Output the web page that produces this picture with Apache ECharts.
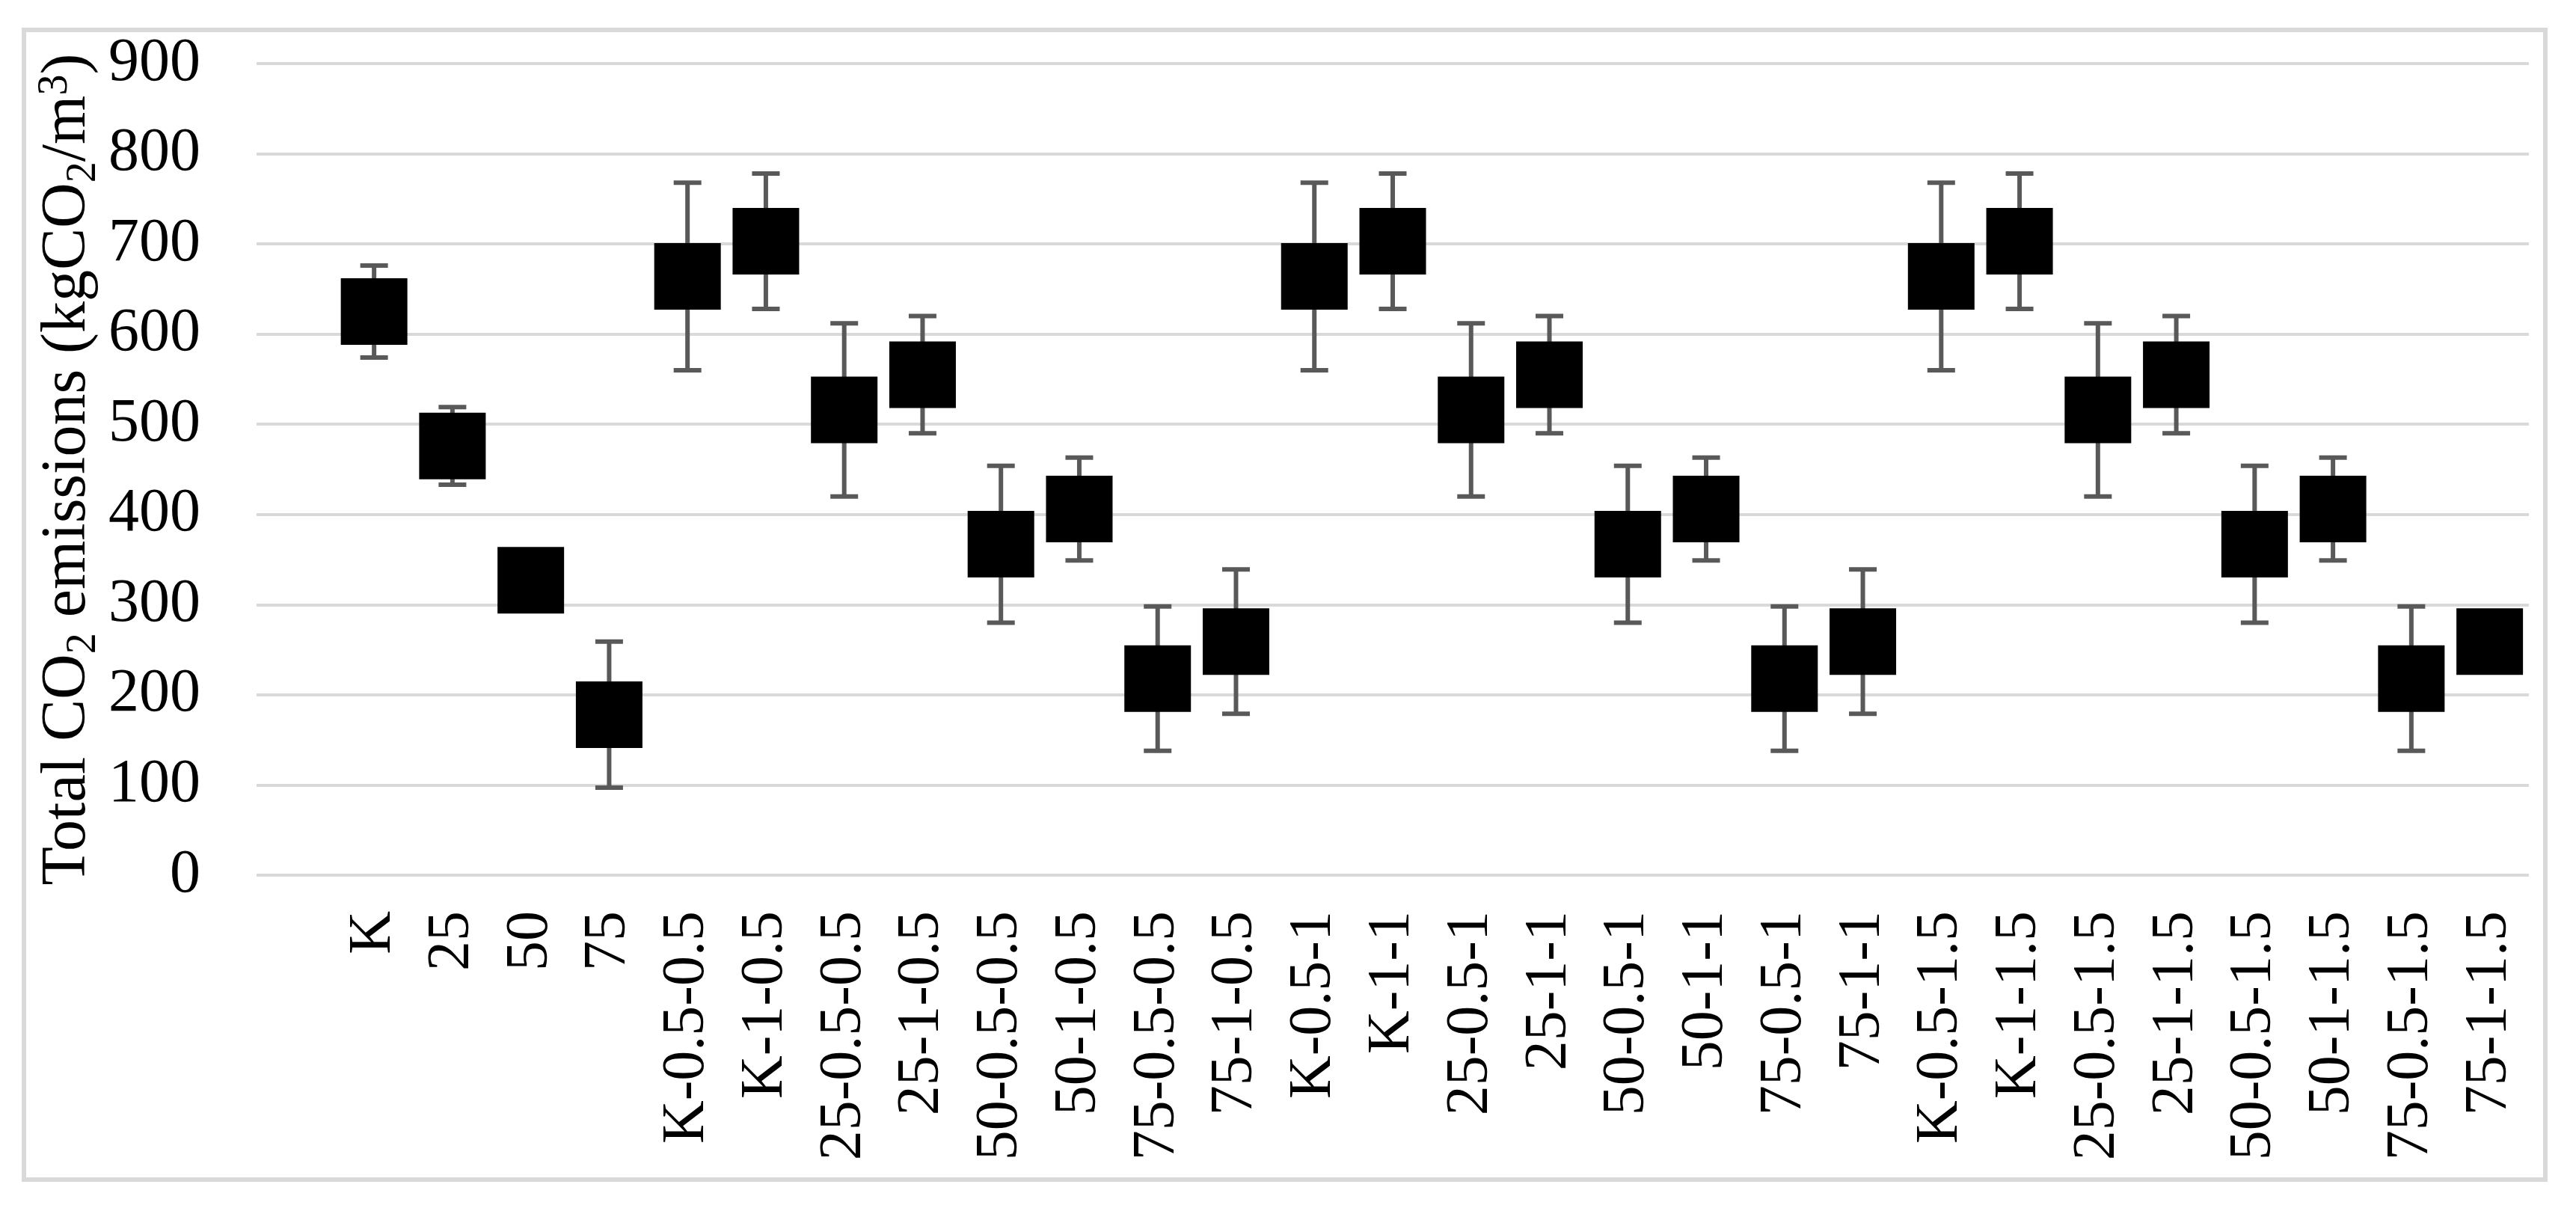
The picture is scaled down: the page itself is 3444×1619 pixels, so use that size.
<!DOCTYPE html>
<html>
<head>
<meta charset="utf-8">
<script src="https://cdn.jsdelivr.net/npm/echarts@6/dist/echarts.min.js"></script>
<style>
  html, body { margin: 0; padding: 0; background: #fff; }
  #main { width: 3444px; height: 1619px; }
</style>
</head>
<body>
<div id="main"></div>
<script>
var categories = [
    'K', '25', '50', '75',
    'K-0.5-0.5', 'K-1-0.5', '25-0.5-0.5', '25-1-0.5', '50-0.5-0.5', '50-1-0.5', '75-0.5-0.5', '75-1-0.5',
    'K-0.5-1', 'K-1-1', '25-0.5-1', '25-1-1', '50-0.5-1', '50-1-1', '75-0.5-1', '75-1-1',
    'K-0.5-1.5', 'K-1-1.5', '25-0.5-1.5', '25-1-1.5', '50-0.5-1.5', '50-1-1.5', '75-0.5-1.5', '75-1-1.5'
];
var means = [
    625, 476, 327, 178,
    664, 703, 516, 555, 367, 406, 218, 259,
    664, 703, 516, 555, 367, 406, 218, 259,
    664, 703, 516, 555, 367, 406, 218, 259
];
var errors = [
    51, 43, 0, 81,
    104, 75, 96, 65, 87, 57, 80, 80,
    104, 75, 96, 65, 87, 57, 80, 80,
    104, 75, 96, 65, 87, 57, 80, 0
];
var yTicks = [0, 900, 100]; // min, max, interval

var font = '"Liberation Serif", "Times New Roman", serif';

// the original chart keeps an empty slot before the first category
var axisCats = [''].concat(categories);

var pointData = categories.map(function (c, i) { return [c, means[i]]; });
var errData = categories.map(function (c, i) {
    return [c, means[i] - errors[i], means[i] + errors[i]];
});

var myChart = echarts.init(document.getElementById('main'));

var option = {
    backgroundColor: '#fff',
    animation: false,
    graphic: [{
        type: 'rect',
        shape: {x: 32, y: 40, width: 3371, height: 1537},
        style: {fill: 'none', stroke: '#d9d9d9', lineWidth: 6},
        z: -1
    }],
    grid: {left: 343, right: 63, top: 85, bottom: 449},
    xAxis: {
        type: 'category',
        data: axisCats,
        axisLine: {show: false},
        axisTick: {show: false},
        splitLine: {show: false},
        axisLabel: {
            interval: 0,
            rotate: 90,
            margin: 48,
            color: '#000',
            fontFamily: font,
            fontSize: 80
        }
    },
    yAxis: {
        type: 'value',
        min: yTicks[0],
        max: yTicks[1],
        interval: yTicks[2],
        name: '{n|Total CO}{sub|2}{n| emissions (kgCO}{sub|2}{n|/m}{sup|3}{n|)}',
        nameLocation: 'middle',
        nameGap: 195,
        nameMoveOverlap: false,
        nameRotate: 90,
        nameTextStyle: {
            fontFamily: font,
            color: '#000',
            rich: {
                n: {fontSize: 84, fontFamily: font, color: '#000', lineHeight: 114, verticalAlign: 'middle'},
                sub: {fontSize: 56, fontFamily: font, color: '#000', lineHeight: 114, verticalAlign: 'bottom', padding: [0, 0, 8, 0]},
                sup: {fontSize: 56, fontFamily: font, color: '#000', lineHeight: 114, verticalAlign: 'top', padding: [12, 0, 0, 0]}
            }
        },
        axisLine: {show: false},
        axisTick: {show: false},
        axisLabel: {
            margin: 75,
            color: '#000',
            fontFamily: font,
            fontSize: 82
        },
        splitLine: {lineStyle: {color: '#d9d9d9', width: 4}}
    },
    series: [
        {
            type: 'custom',
            z: 1,
            renderItem: function (params, api) {
                var lo = api.value(1), hi = api.value(2);
                if (hi - lo <= 0) return;
                var x = api.value(0);
                var p1 = api.coord([x, lo]);
                var p2 = api.coord([x, hi]);
                var half = 18.5;
                var st = {stroke: '#595959', lineWidth: 6};
                return {
                    type: 'group',
                    children: [
                        {type: 'line', shape: {x1: p1[0], y1: p1[1], x2: p2[0], y2: p2[1]}, style: st},
                        {type: 'line', shape: {x1: p1[0] - half, y1: p1[1], x2: p1[0] + half, y2: p1[1]}, style: st},
                        {type: 'line', shape: {x1: p2[0] - half, y1: p2[1], x2: p2[0] + half, y2: p2[1]}, style: st}
                    ]
                };
            },
            encode: {x: 0, y: [1, 2]},
            data: errData
        },
        {
            type: 'scatter',
            z: 2,
            symbol: 'rect',
            symbolSize: 89,
            itemStyle: {color: '#000', opacity: 1},
            data: pointData
        }
    ]
};
myChart.setOption(option);
</script>
</body>
</html>
